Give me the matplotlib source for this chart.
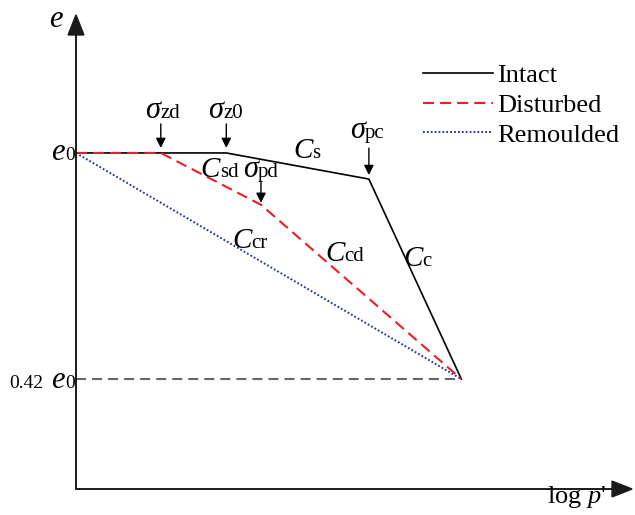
import matplotlib
matplotlib.use('Agg')
import matplotlib.pyplot as plt

plt.rcParams['font.family'] = ['Liberation Serif', 'DejaVu Serif']
plt.rcParams['mathtext.fontset'] = 'custom'
plt.rcParams['mathtext.rm'] = 'Liberation Serif'
plt.rcParams['mathtext.it'] = 'Liberation Serif:italic'

# schematic e - log p' curves (e in units of e0, log p' in arbitrary units)
logp_intact = [0, 3.9, 7.6, 10]
e_intact = [1.0, 1.0, 0.933, 0.42]
logp_disturbed = [0, 2.2, 4.8, 10]
e_disturbed = [1.0, 1.0, 0.867, 0.42]
logp_remoulded = [0, 10]
e_remoulded = [1.0, 0.42]
e_ref = 0.42

fig = plt.figure(figsize=(6.35, 5.15), dpi=100)
ax = fig.add_axes([76/635, 1 - 489/515, 1 - 77/635, (489 - 13)/515])
ax.set_xlim(0, 14.48)
ax.set_ylim(0.138, 1.359)
for s in ax.spines.values():
    s.set_visible(False)
ax.set_xticks([])
ax.set_yticks([])

# axes with arrow heads
axis_arrow = dict(arrowstyle='-|>,head_length=1.37,head_width=0.54', lw=1.4,
                  color='#1a1a1a', mutation_scale=10, shrinkA=0, shrinkB=0)
ax.annotate('', xy=(0, 1), xytext=(0, 0), xycoords='axes fraction', arrowprops=axis_arrow)
ax.annotate('', xy=(1, 0), xytext=(0, 0), xycoords='axes fraction', arrowprops=axis_arrow)

ax.plot([0, logp_remoulded[-1]], [e_ref, e_ref], color='#666666', lw=1.5,
        linestyle=(0, (4.8, 2.9)))
ax.plot(logp_intact, e_intact, color='black', lw=1.2, label='Intact')
ax.plot(logp_disturbed, e_disturbed, color='#ee1c25', lw=1.5,
        linestyle=(0, (5.3, 2.9)), label='Disturbed')
ax.plot(logp_remoulded, e_remoulded, color='#2030a0', lw=1.4,
        linestyle=(0, (0.9, 1.1)), label='Remoulded')

leg = ax.legend(loc='upper left', bbox_to_anchor=(423/635, 1 - 64/515),
                bbox_transform=fig.transFigure, frameon=False, fontsize=19,
                handlelength=2.65, handletextpad=0.15, labelspacing=0.23,
                borderpad=0, borderaxespad=0)


def sub_label(x, y, main, sub, ms=21, ss=15):
    ax.text(x, y, main, ha='right', va='baseline', fontsize=ms, style='italic')
    ax.text(x, y, sub, ha='left', va='baseline', fontsize=ss)


small_arrow = dict(arrowstyle='-|>,head_length=0.58,head_width=0.29', lw=1.0,
                   color='black', mutation_scale=10, shrinkA=0)

# pre-consolidation markers
ax.annotate('', xy=(logp_disturbed[1], e_disturbed[1]), xytext=(0, 20.9),
            textcoords='offset points', arrowprops=dict(small_arrow, shrinkB=3.6))
ax.annotate('', xy=(logp_intact[1], e_intact[1]), xytext=(0, 20.9),
            textcoords='offset points', arrowprops=dict(small_arrow, shrinkB=3.6))
ax.annotate('', xy=(logp_intact[2], e_intact[2]), xytext=(0, 22.3),
            textcoords='offset points', arrowprops=dict(small_arrow, shrinkB=2.9))
ax.annotate('', xy=(logp_disturbed[2], e_disturbed[2]), xytext=(0, 16.6),
            textcoords='offset points', arrowprops=dict(small_arrow, shrinkB=1.4))

sub_label(2.18, 1.090, 'σ', 'zd', ms=22)
sub_label(3.83, 1.090, 'σ', 'z0', ms=22)
sub_label(7.49, 1.038, 'σ', 'pc', ms=22)
sub_label(4.72, 0.938, 'σ', 'pd', ms=22)
sub_label(3.73, 0.938, 'C', 'sd')
sub_label(6.14, 0.987, 'C', 's')
sub_label(4.56, 0.756, 'C', 'cr')
sub_label(6.97, 0.723, 'C', 'cd')
sub_label(8.99, 0.710, 'C', 'c')

# axis labels
ax.text(-0.53, 1.323, 'e', ha='center', va='baseline', fontsize=22, style='italic')
sub_label(-0.285, 0.982, 'e', '0', ms=22, ss=14)
sub_label(-0.285, 0.397, 'e', '0', ms=22, ss=14)
ax.text(-0.855, 0.397, '0.42', ha='right', va='baseline', fontsize=14)
ax.text(12.99, 0.102, "log $p$'", ha='center', va='baseline', fontsize=19)

fig.savefig('out.png', dpi=100)
